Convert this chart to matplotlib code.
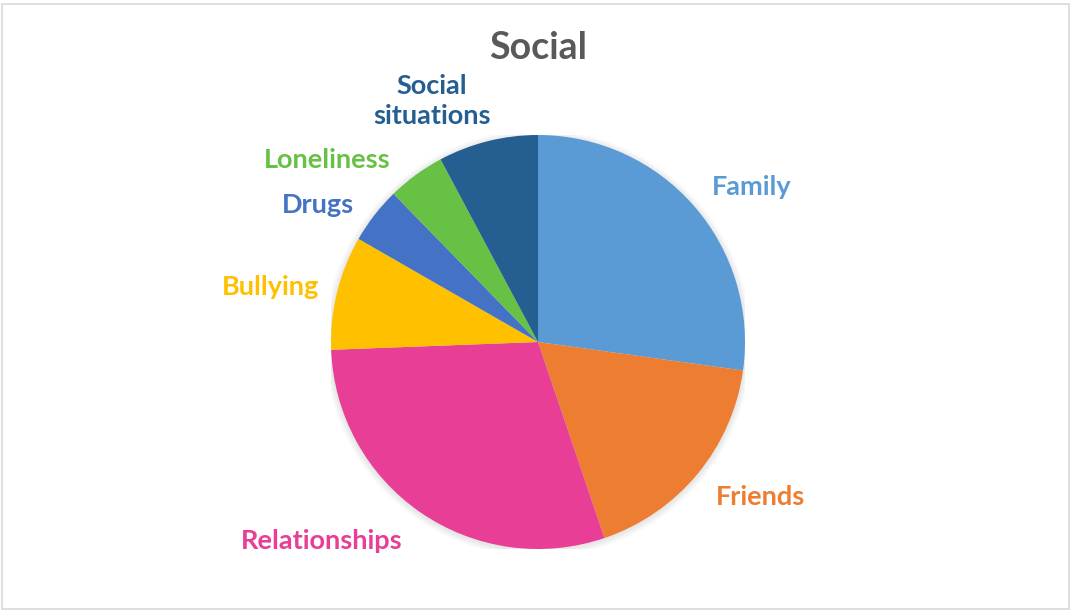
import matplotlib
matplotlib.use("Agg")
import matplotlib.pyplot as plt
from matplotlib.patches import Rectangle, Circle

categories = ["Family", "Friends", "Relationships", "Bullying", "Drugs", "Loneliness", "Social\nsituations"]
values = [27.2, 17.6, 29.6, 8.9, 4.4, 4.5, 7.8]
colors = ["#5B9BD5", "#ED7D31", "#E83E96", "#FFC000", "#4472C4", "#66C144", "#255E91"]
title = "Social"

W, H = 1072, 612
fig = plt.figure(figsize=(W / 100, H / 100), dpi=100)
fig.patch.set_facecolor("white")

# border
fig.add_artist(Rectangle((2 / W, 3 / H), 1067 / W, 605 / H, transform=fig.transFigure,
                         fill=False, edgecolor="#D9D9D9", linewidth=1.2))

cx, cy, r = 538, 342, 207
ax = fig.add_axes([(cx - r) / W, (H - cy - r) / H, 2 * r / W, 2 * r / H])
# soft shadow
for i in range(8):
    ax.add_patch(Circle((0.0, -0.006), 1.0 + 0.004 * (i + 1), facecolor="black",
                        edgecolor="none", alpha=0.012, zorder=0))
ax.pie(values, colors=colors, startangle=90, counterclock=False, radius=1,
       wedgeprops=dict(linewidth=0, zorder=2))
ax.set_xlim(-1, 1)
ax.set_ylim(-1, 1)
ax.axis("off")

# label positions in pixels (x, y from top)
label_px = [(752, 187), (761, 497), (322, 541), (270, 287), (318, 205), (327, 160), (432, 101)]
for name, col, (px, py) in zip(categories, colors, label_px):
    fig.text(px / W, 1 - py / H, name, color=col, fontsize=19.5, fontweight="bold",
             family="Lato", ha="center", va="center", linespacing=1.25)

fig.text(cx / W, 1 - 48 / H, title, color="#595959", fontsize=27, fontweight="bold",
         family="Lato", ha="center", va="center")

fig.savefig("out.png", dpi=100, facecolor="white")
